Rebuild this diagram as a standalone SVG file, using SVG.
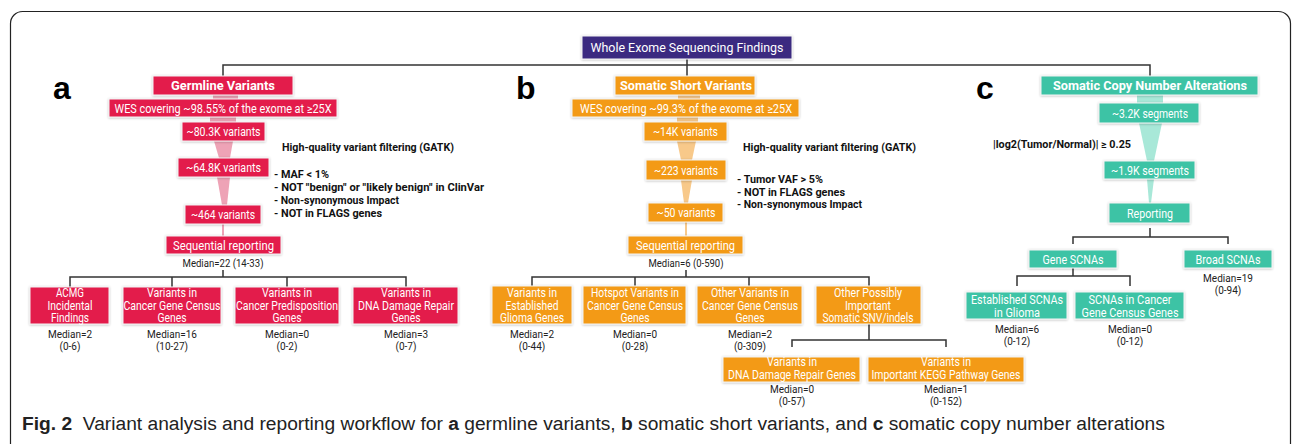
<svg xmlns="http://www.w3.org/2000/svg" width="1292" height="444" viewBox="0 0 1292 444">
<defs>
<filter id="sh" x="-10%" y="-30%" width="120%" height="160%"><feDropShadow dx="0" dy="0.6" stdDeviation="1" flood-color="#000" flood-opacity="0.28"/></filter>
<style>
.g{fill:#e31b4c}
.o{fill:#f39a12}
.t{fill:#3cc3a5}
.p{fill:#3b2b80}
.bx{filter:url(#sh);stroke:#f4f4f4;stroke-width:1}
.bt{font-family:Roboto,'Liberation Sans',sans-serif;font-size:12px;fill:#fff;text-anchor:middle}
.hb{font-weight:bold;font-size:13px}
.md{font-family:Roboto,'Liberation Sans',sans-serif;font-size:10px;fill:#222;text-anchor:middle}
.ft{font-family:Roboto,'Liberation Sans',sans-serif;font-size:10.5px;font-weight:bold;fill:#111}
.ln{stroke:#333;stroke-width:1.5;fill:none}
.lab{font-family:'Liberation Sans',Arial,sans-serif;font-weight:bold;font-size:32px;fill:#000}
.fg{fill:#eea3b6}
.fo{fill:#f8c98a}
.fc{fill:#a8e8d8}
.cap{font-family:'Liberation Sans',Arial,sans-serif;font-size:19.2px;fill:#222}
</style>
</defs>
<rect x="10.5" y="11.5" width="1280" height="470" rx="12" fill="#fff" stroke="#222" stroke-width="1.2"/>

<g id="connectors">
<path class="ln" d="M223,76 V65 H1150 V76 M687,59 V76"/>
<path class="ln" d="M223,270 V277 M70,287 V277 H406 V287 M172,277 V287 M287,277 V287"/>
<path class="ln" d="M686,270 V277 M532,286 V277 H869 V286 M635,277 V286 M749,277 V286"/>
<path class="ln" d="M869,324 V340 M792,347 V340 H946 V347"/>
<path class="ln" d="M1150,228 V237 M1073,244 V237 H1228 V244"/>
<path class="ln" d="M1073,268 V276 M1017,286 V276 H1130 V286"/>
<polygon class="fg" points="213,95 238,95 238,99 213,99"/>
<polygon class="fg" points="210,117 236,117 236,122 210,122"/>
<polygon class="fg" points="214,141 233,141 230,158 219,158"/>
<polygon class="fg" points="217,177 230,177 227,205 222,205"/>
<rect class="fg" x="222" y="224" width="2" height="12"/>
<polygon class="fo" points="678,95 700,95 700,99 678,99"/>
<polygon class="fo" points="677,117 698,117 698,122 677,122"/>
<polygon class="fo" points="677,141 696,141 692,160 681,160"/>
<polygon class="fo" points="681,180 692,180 688,203 684,203"/>
<rect class="fo" x="685" y="222" width="2" height="14"/>
<polygon class="fc" points="1137,95 1163,95 1163,103 1137,103"/>
<polygon class="fc" points="1139,123 1162,123 1154,161 1147,161"/>
<polygon class="fc" points="1147,179 1154,179 1151,203 1149,203"/>
</g>

<g id="title">
<rect class="p bx" x="582" y="36" width="210" height="23"/>
<text class="bt" x="687" y="52" style="font-size:13px" textLength="193" lengthAdjust="spacingAndGlyphs">Whole Exome Sequencing Findings</text>
</g>

<text class="lab" x="53" y="99">a</text>
<text class="lab" x="516" y="99">b</text>
<text class="lab" x="976" y="99">c</text>

<!-- Germline -->
<g id="germline">
<rect class="g bx" x="153" y="76" width="140" height="19"/>
<text class="bt hb" x="223" y="90" textLength="104" lengthAdjust="spacingAndGlyphs">Germline Variants</text>
</g>
<g id="g-wes">
<rect class="g bx" x="109" y="99" width="228" height="18"/>
<text class="bt" x="223" y="112.5" textLength="217" lengthAdjust="spacingAndGlyphs">WES covering ~98.55% of the exome at ≥25X</text>
</g>
<g id="g-80k">
<rect class="g bx" x="182" y="122" width="83" height="19"/>
<text class="bt" x="223.5" y="136" textLength="74" lengthAdjust="spacingAndGlyphs">~80.3K variants</text>
</g>
<g id="g-64k">
<rect class="g bx" x="178" y="158" width="91" height="19"/>
<text class="bt" x="223.5" y="172" textLength="75" lengthAdjust="spacingAndGlyphs">~64.8K variants</text>
</g>
<g id="g-464">
<rect class="g bx" x="185" y="205" width="76" height="19"/>
<text class="bt" x="223" y="219" textLength="64" lengthAdjust="spacingAndGlyphs">~464 variants</text>
</g>
<g id="g-seq">
<rect class="g bx" x="166" y="236" width="115" height="18"/>
<text class="bt" x="223.5" y="250" style="font-size:13px" textLength="101" lengthAdjust="spacingAndGlyphs">Sequential reporting</text>
<text class="md" x="223" y="267" textLength="81" lengthAdjust="spacingAndGlyphs">Median=22 (14-33)</text>
</g>
<g id="g-filter">
<text class="ft" x="282" y="151" textLength="172" lengthAdjust="spacingAndGlyphs">High-quality variant filtering (GATK)</text>
<text class="ft" x="274" y="178" textLength="55" lengthAdjust="spacingAndGlyphs">- MAF &lt; 1%</text>
<text class="ft" x="274" y="191" textLength="210" lengthAdjust="spacingAndGlyphs">- NOT "benign" or "likely benign" in ClinVar</text>
<text class="ft" x="274" y="204" textLength="125" lengthAdjust="spacingAndGlyphs">- Non-synonymous Impact</text>
<text class="ft" x="274" y="217" textLength="108" lengthAdjust="spacingAndGlyphs">- NOT in FLAGS genes</text>
</g>
<g id="g-acmg">
<rect class="g bx" x="30" y="287" width="79" height="37"/>
<text class="bt" x="70" y="297" textLength="28" lengthAdjust="spacingAndGlyphs">ACMG</text>
<text class="bt" x="70" y="309.5" textLength="45" lengthAdjust="spacingAndGlyphs">Incidental</text>
<text class="bt" x="70" y="322" textLength="38" lengthAdjust="spacingAndGlyphs">Findings</text>
<text class="md" x="70" y="338">Median=2</text>
<text class="md" x="70" y="350">(0-6)</text>
</g>
<g id="g-cgc">
<rect class="g bx" x="123" y="287" width="98" height="37"/>
<text class="bt" x="172" y="297" textLength="50" lengthAdjust="spacingAndGlyphs">Variants in</text>
<text class="bt" x="172" y="309.5" textLength="97" lengthAdjust="spacingAndGlyphs">Cancer Gene Census</text>
<text class="bt" x="172" y="322" textLength="29" lengthAdjust="spacingAndGlyphs">Genes</text>
<text class="md" x="172" y="338">Median=16</text>
<text class="md" x="172" y="350">(10-27)</text>
</g>
<g id="g-cpg">
<rect class="g bx" x="235" y="287" width="104" height="37"/>
<text class="bt" x="287" y="297" textLength="50" lengthAdjust="spacingAndGlyphs">Variants in</text>
<text class="bt" x="287" y="309.5" textLength="102" lengthAdjust="spacingAndGlyphs">Cancer Predisposition</text>
<text class="bt" x="287" y="322" textLength="29" lengthAdjust="spacingAndGlyphs">Genes</text>
<text class="md" x="287" y="338">Median=0</text>
<text class="md" x="287" y="350">(0-2)</text>
</g>
<g id="g-ddr">
<rect class="g bx" x="353" y="287" width="105" height="37"/>
<text class="bt" x="406" y="297" textLength="50" lengthAdjust="spacingAndGlyphs">Variants in</text>
<text class="bt" x="406" y="309.5" textLength="96" lengthAdjust="spacingAndGlyphs">DNA Damage Repair</text>
<text class="bt" x="406" y="322" textLength="29" lengthAdjust="spacingAndGlyphs">Genes</text>
<text class="md" x="406" y="338">Median=3</text>
<text class="md" x="406" y="350">(0-7)</text>
</g>

<!-- Somatic short -->
<g id="somatic">
<rect class="o bx" x="615" y="76" width="140" height="19"/>
<text class="bt hb" x="686" y="90" textLength="132" lengthAdjust="spacingAndGlyphs">Somatic Short Variants</text>
</g>
<g id="s-wes">
<rect class="o bx" x="572" y="99" width="227" height="18"/>
<text class="bt" x="686" y="112.5" textLength="212" lengthAdjust="spacingAndGlyphs">WES covering ~99.3% of the exome at ≥25X</text>
</g>
<g id="s-14k">
<rect class="o bx" x="644" y="122" width="83" height="19"/>
<text class="bt" x="685.5" y="136" textLength="65" lengthAdjust="spacingAndGlyphs">~14K variants</text>
</g>
<g id="s-223">
<rect class="o bx" x="646" y="160" width="80" height="20"/>
<text class="bt" x="686" y="174.5" textLength="64" lengthAdjust="spacingAndGlyphs">~223 variants</text>
</g>
<g id="s-50">
<rect class="o bx" x="648" y="203" width="75" height="19"/>
<text class="bt" x="686" y="217" textLength="59" lengthAdjust="spacingAndGlyphs">~50 variants</text>
</g>
<g id="s-seq">
<rect class="o bx" x="628" y="236" width="115" height="18"/>
<text class="bt" x="685.5" y="250" style="font-size:13px" textLength="99" lengthAdjust="spacingAndGlyphs">Sequential reporting</text>
<text class="md" x="686" y="267" textLength="75" lengthAdjust="spacingAndGlyphs">Median=6 (0-590)</text>
</g>
<g id="s-filter">
<text class="ft" x="743" y="151" textLength="173" lengthAdjust="spacingAndGlyphs">High-quality variant filtering (GATK)</text>
<text class="ft" x="737" y="183" textLength="86" lengthAdjust="spacingAndGlyphs">- Tumor VAF &gt; 5%</text>
<text class="ft" x="737" y="196" textLength="108" lengthAdjust="spacingAndGlyphs">- NOT in FLAGS genes</text>
<text class="ft" x="737" y="208" textLength="125" lengthAdjust="spacingAndGlyphs">- Non-synonymous Impact</text>
</g>
<g id="s-glioma">
<rect class="o bx" x="492" y="286" width="80" height="38"/>
<text class="bt" x="532" y="297" textLength="50" lengthAdjust="spacingAndGlyphs">Variants in</text>
<text class="bt" x="532" y="309.5" textLength="53" lengthAdjust="spacingAndGlyphs">Established</text>
<text class="bt" x="532" y="322" textLength="64" lengthAdjust="spacingAndGlyphs">Glioma Genes</text>
<text class="md" x="532" y="337.5">Median=2</text>
<text class="md" x="532" y="350">(0-44)</text>
</g>
<g id="s-hotspot">
<rect class="o bx" x="583" y="286" width="103" height="38"/>
<text class="bt" x="635" y="297" textLength="88" lengthAdjust="spacingAndGlyphs">Hotspot Variants in</text>
<text class="bt" x="635" y="309.5" textLength="96" lengthAdjust="spacingAndGlyphs">Cancer Gene Census</text>
<text class="bt" x="635" y="322" textLength="29" lengthAdjust="spacingAndGlyphs">Genes</text>
<text class="md" x="635" y="337.5">Median=0</text>
<text class="md" x="635" y="350">(0-28)</text>
</g>
<g id="s-othercgc">
<rect class="o bx" x="697" y="286" width="105" height="38"/>
<text class="bt" x="750" y="297" textLength="78" lengthAdjust="spacingAndGlyphs">Other Variants in</text>
<text class="bt" x="750" y="309.5" textLength="96" lengthAdjust="spacingAndGlyphs">Cancer Gene Census</text>
<text class="bt" x="750" y="322" textLength="29" lengthAdjust="spacingAndGlyphs">Genes</text>
<text class="md" x="750" y="337.5">Median=2</text>
<text class="md" x="750" y="350">(0-309)</text>
</g>
<g id="s-otherimp">
<rect class="o bx" x="816" y="286" width="105" height="38"/>
<text class="bt" x="868" y="297" textLength="68" lengthAdjust="spacingAndGlyphs">Other Possibly</text>
<text class="bt" x="868" y="309.5" textLength="46" lengthAdjust="spacingAndGlyphs">Important</text>
<text class="bt" x="868" y="322" textLength="91" lengthAdjust="spacingAndGlyphs">Somatic SNV/indels</text>
</g>
<g id="s-ddr">
<rect class="o bx" x="723" y="357" width="137" height="25"/>
<text class="bt" x="792" y="366" textLength="50" lengthAdjust="spacingAndGlyphs">Variants in</text>
<text class="bt" x="792" y="378.5" textLength="128" lengthAdjust="spacingAndGlyphs">DNA Damage Repair Genes</text>
<text class="md" x="792" y="393">Median=0</text>
<text class="md" x="792" y="405">(0-57)</text>
</g>
<g id="s-kegg">
<rect class="o bx" x="868" y="357" width="156" height="25"/>
<text class="bt" x="946" y="366" textLength="50" lengthAdjust="spacingAndGlyphs">Variants in</text>
<text class="bt" x="946" y="378.5" textLength="149" lengthAdjust="spacingAndGlyphs">Important KEGG Pathway Genes</text>
<text class="md" x="946" y="393">Median=1</text>
<text class="md" x="946" y="405">(0-152)</text>
</g>

<!-- SCNA -->
<g id="scna">
<rect class="t bx" x="1041" y="76" width="217" height="19"/>
<text class="bt hb" x="1150" y="90" textLength="194" lengthAdjust="spacingAndGlyphs">Somatic Copy Number Alterations</text>
</g>
<g id="c-32k">
<rect class="t bx" x="1099" y="103" width="100" height="20"/>
<text class="bt" x="1150" y="117.5" textLength="76" lengthAdjust="spacingAndGlyphs">~3.2K segments</text>
</g>
<text class="ft" x="993" y="148" textLength="138" lengthAdjust="spacingAndGlyphs">|log2(Tumor/Normal)| ≥ 0.25</text>
<g id="c-19k">
<rect class="t bx" x="1104" y="161" width="91" height="18"/>
<text class="bt" x="1150" y="174.5" textLength="78" lengthAdjust="spacingAndGlyphs">~1.9K segments</text>
</g>
<g id="c-rep">
<rect class="t bx" x="1109" y="203" width="81" height="20"/>
<text class="bt" x="1150" y="217.5" style="font-size:13px" textLength="46" lengthAdjust="spacingAndGlyphs">Reporting</text>
</g>
<g id="c-gene">
<rect class="t bx" x="1029" y="250" width="88" height="18"/>
<text class="bt" x="1073" y="263.5" style="font-size:13px" textLength="61" lengthAdjust="spacingAndGlyphs">Gene SCNAs</text>
</g>
<g id="c-broad">
<rect class="t bx" x="1184" y="250" width="88" height="18"/>
<text class="bt" x="1228" y="263.5" style="font-size:13px" textLength="65" lengthAdjust="spacingAndGlyphs">Broad SCNAs</text>
<text class="md" x="1228" y="282">Median=19</text>
<text class="md" x="1228" y="294">(0-94)</text>
</g>
<g id="c-glioma">
<rect class="t bx" x="966" y="292" width="101" height="27"/>
<text class="bt" x="1017" y="303.5" textLength="92" lengthAdjust="spacingAndGlyphs">Established SCNAs</text>
<text class="bt" x="1017" y="316.5" textLength="46" lengthAdjust="spacingAndGlyphs">in Glioma</text>
<text class="md" x="1017" y="333">Median=6</text>
<text class="md" x="1017" y="345">(0-12)</text>
</g>
<g id="c-cgc">
<rect class="t bx" x="1075" y="292" width="109" height="27"/>
<text class="bt" x="1130" y="303.5" textLength="83" lengthAdjust="spacingAndGlyphs">SCNAs in Cancer</text>
<text class="bt" x="1130" y="316.5" textLength="97" lengthAdjust="spacingAndGlyphs">Gene Census Genes</text>
<text class="md" x="1130" y="333">Median=0</text>
<text class="md" x="1130" y="345">(0-12)</text>
</g>

<text class="cap" x="22" y="430" xml:space="preserve"><tspan font-weight="bold">Fig. 2</tspan>  Variant analysis and reporting workflow for <tspan font-weight="bold">a</tspan> germline variants, <tspan font-weight="bold">b</tspan> somatic short variants, and <tspan font-weight="bold">c</tspan> somatic copy number alterations</text>
</svg>
